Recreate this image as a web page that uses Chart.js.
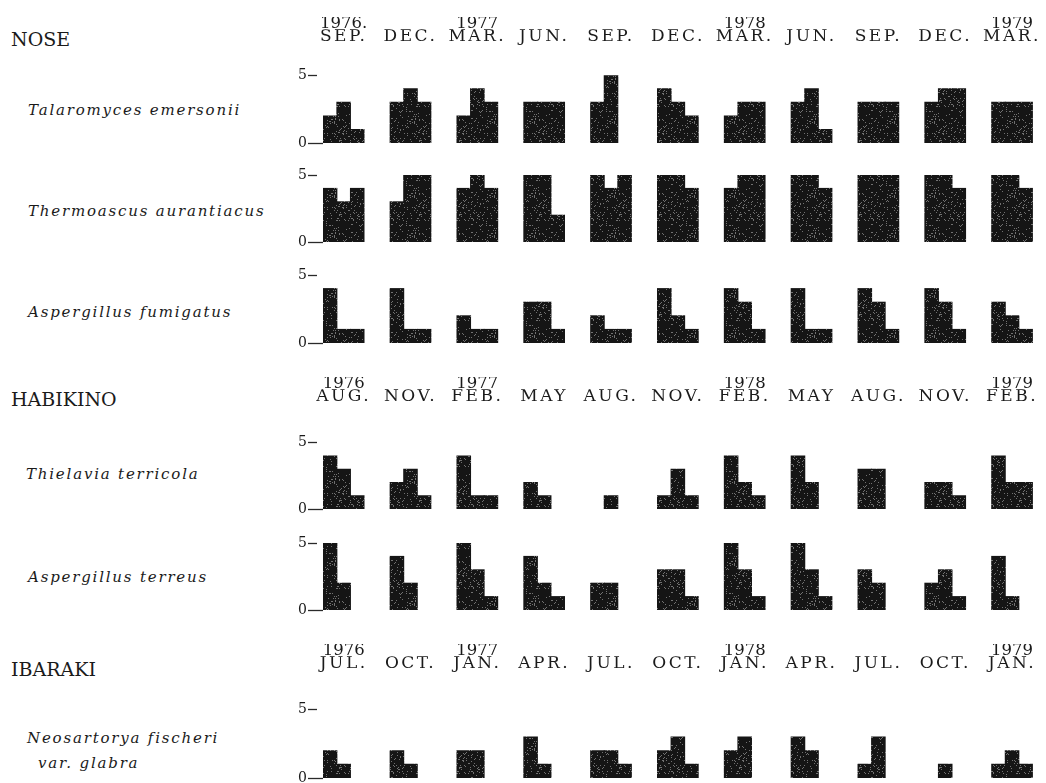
<!DOCTYPE html>
<html>
<head>
<meta charset="utf-8">
<script src="https://cdn.jsdelivr.net/npm/chart.js@4/dist/chart.umd.min.js"></script>
<style>
  html, body { margin: 0; padding: 0; background: #fff; }
  #figure { position: relative; width: 1046px; height: 783px; overflow: hidden;
            font-family: "DejaVu Serif", "Liberation Serif", serif; color: #1a1a1a; }
  #figure canvas { position: absolute; }
  .site { position: absolute; left: 11px; font-size: 19px; line-height: 20px; white-space: nowrap; }
  .species { position: absolute; left: 28px; font-style: italic; font-size: 15px; line-height: 18px;
             letter-spacing: 1.8px; white-space: nowrap; }
</style>
</head>
<body>
<div id="figure">
  <div class="site" style="top:29px">NOSE</div>
  <div class="species" style="top:101px">Talaromyces emersonii</div>
  <div class="species" style="top:202px">Thermoascus aurantiacus</div>
  <div class="species" style="top:303px">Aspergillus fumigatus</div>

  <div class="site" style="top:389px">HABIKINO</div>
  <div class="species" style="top:465px; left:26px">Thielavia terricola</div>
  <div class="species" style="top:568px">Aspergillus terreus</div>

  <div class="site" style="top:659px">IBARAKI</div>
  <div class="species" style="top:729px; left:27px">Neosartorya fischeri</div>
  <div class="species" style="top:754px; left:38px">var. <span>glabra</span></div>
</div>
<script>
// Sampling dates at each station (year shown only where it changes)
const NOSE_YEARS  = ['1976.', '', '1977', '', '', '', '1978', '', '', '', '1979'];
const NOSE_MONTHS = ['SEP.', 'DEC.', 'MAR.', 'JUN.', 'SEP.', 'DEC.', 'MAR.', 'JUN.', 'SEP.', 'DEC.', 'MAR.'];
const HABIKINO_YEARS  = ['1976', '', '1977', '', '', '', '1978', '', '', '', '1979'];
const HABIKINO_MONTHS = ['AUG.', 'NOV.', 'FEB.', 'MAY', 'AUG.', 'NOV.', 'FEB.', 'MAY', 'AUG.', 'NOV.', 'FEB.'];
const IBARAKI_YEARS  = ['1976', '', '1977', '', '', '', '1978', '', '', '', '1979'];
const IBARAKI_MONTHS = ['JUL.', 'OCT.', 'JAN.', 'APR.', 'JUL.', 'OCT.', 'JAN.', 'APR.', 'JUL.', 'OCT.', 'JAN.'];
const SCORE_TICKS = [0, 5];

// Three bars per sampling date, score 0-5
const TALAROMYCES_1 = [2, 3, 2, 3, 3, 4, 2, 3, 3, 3, 3];
const TALAROMYCES_2 = [3, 4, 4, 3, 5, 3, 3, 4, 3, 4, 3];
const TALAROMYCES_3 = [1, 3, 3, 3, 0, 2, 3, 1, 3, 4, 3];

const THERMOASCUS_1 = [4, 3, 4, 5, 5, 5, 4, 5, 5, 5, 5];
const THERMOASCUS_2 = [3, 5, 5, 5, 4, 5, 5, 5, 5, 5, 5];
const THERMOASCUS_3 = [4, 5, 4, 2, 5, 4, 5, 4, 5, 4, 4];

const FUMIGATUS_1 = [4, 4, 2, 3, 2, 4, 4, 4, 4, 4, 3];
const FUMIGATUS_2 = [1, 1, 1, 3, 1, 2, 3, 1, 3, 3, 2];
const FUMIGATUS_3 = [1, 1, 1, 1, 1, 1, 1, 1, 1, 1, 1];

const THIELAVIA_1 = [4, 2, 4, 2, 0, 1, 4, 4, 3, 2, 4];
const THIELAVIA_2 = [3, 3, 1, 1, 1, 3, 2, 2, 3, 2, 2];
const THIELAVIA_3 = [1, 1, 1, 0, 0, 1, 1, 0, 0, 1, 2];

const TERREUS_1 = [5, 4, 5, 4, 2, 3, 5, 5, 3, 2, 4];
const TERREUS_2 = [2, 2, 3, 2, 2, 3, 3, 3, 2, 3, 1];
const TERREUS_3 = [0, 0, 1, 1, 0, 1, 1, 1, 0, 1, 0];

const NEOSARTORYA_1 = [2, 2, 2, 3, 2, 2, 2, 3, 1, 0, 1];
const NEOSARTORYA_2 = [1, 1, 2, 1, 2, 3, 3, 2, 3, 1, 2];
const NEOSARTORYA_3 = [0, 0, 0, 0, 1, 1, 0, 0, 0, 0, 1];

// ---- layout ----
const CANVAS_LEFT = 283;
const CANVAS_WIDTH = 1046 - CANVAS_LEFT;
const AXIS_WIDTH = 40;
const PAD_RIGHT = 6;
const X_MIN = -0.309, X_MAX = 10.418;
const SERIF = '"DejaVu Serif", serif';
const MONTH_FONT = { family: SERIF, size: 17, lineHeight: 14.6 / 17 };
const MONTH_SPACING = '2.5px';
const YEAR_FONT = { family: SERIF, size: 16.5, lineHeight: 14 / 16.5 };
const YEAR_PAD = -1.8;
const INK = '#1a1a1a';

const rows = [
  { y5: 75,  y0: 143, series: [TALAROMYCES_1, TALAROMYCES_2, TALAROMYCES_3],
    header: { years: NOSE_YEARS, months: NOSE_MONTHS, monthPad: 31.4 } },
  { y5: 175, y0: 242, series: [THERMOASCUS_1, THERMOASCUS_2, THERMOASCUS_3] },
  { y5: 275, y0: 343, series: [FUMIGATUS_1, FUMIGATUS_2, FUMIGATUS_3] },
  { y5: 443, y0: 509, series: [THIELAVIA_1, THIELAVIA_2, THIELAVIA_3],
    header: { years: HABIKINO_YEARS, months: HABIKINO_MONTHS, monthPad: 38.9 } },
  { y5: 543, y0: 610, series: [TERREUS_1, TERREUS_2, TERREUS_3] },
  { y5: 710, y0: 778, series: [NEOSARTORYA_1, NEOSARTORYA_2, NEOSARTORYA_3],
    header: { years: IBARAKI_YEARS, months: IBARAKI_MONTHS, monthPad: 38.9 } }
];

const figure = document.getElementById('figure');
const dateIndex = NOSE_MONTHS.map((_, i) => i);

// Fixed speckle texture for the bar fill (half-tone look)
function speckleFill() {
  const size = 40;
  const tile = document.createElement('canvas');
  tile.width = tile.height = size;
  const g = tile.getContext('2d');
  g.fillStyle = '#151515';
  g.fillRect(0, 0, size, size);
  g.fillStyle = 'rgba(190,190,190,0.55)';
  for (let y = 0; y < size; y++) {
    for (let x = 0; x < size; x++) {
      let h = Math.imul(x, 374761393) + Math.imul(y, 668265263);
      h = Math.imul(h ^ (h >>> 13), 1274126177);
      h ^= h >>> 16;
      if ((h & 255) < 22) g.fillRect(x, y, 1, 1);
    }
  }
  return g.createPattern(tile, 'repeat');
}
const BAR_FILL = speckleFill();

// Month names are set with wider letter spacing than the years above them
const spacedMonths = {
  id: 'spacedMonths',
  afterLayout(chart) {
    const scale = chart.scales.x;
    if (!scale || scale.$spaced) return;
    const drawLabels = scale.drawLabels;
    scale.drawLabels = function (area) {
      const ctx = this.ctx;
      ctx.save();
      ctx.letterSpacing = MONTH_SPACING;
      drawLabels.call(this, area);
      ctx.restore();
    };
    scale.$spaced = true;
  }
};

// Top axis carrying either the month line or the year line of the date header
function dateAxis(header, kind) {
  const show = !!header;
  const isMonth = kind === 'month';
  const font = isMonth ? MONTH_FONT : YEAR_FONT;
  const pad = show ? (isMonth ? header.monthPad : YEAR_PAD) : 0;
  return {
    type: 'linear',
    position: 'top',
    weight: isMonth ? 0 : 1,
    offset: false,
    min: X_MIN,
    max: X_MAX,
    display: show,
    afterBuildTicks: axis => { axis.ticks = dateIndex.map(v => ({ value: v })); },
    afterFit: axis => {
      axis.paddingLeft = 0;
      axis.paddingRight = 0;
      if (show) axis.height = font.size * font.lineHeight + pad;
    },
    grid: { display: false, drawTicks: false },
    border: { display: false },
    ticks: {
      autoSkip: false,
      maxRotation: 0,
      padding: pad,
      color: INK,
      font: font,
      callback: v => show ? (isMonth ? header.months[v] : header.years[v]) : ''
    }
  };
}

function buildConfig(row, padTop, padBottom) {
  const header = row.header;
  return {
    type: 'bar',
    data: {
      labels: dateIndex,
      datasets: row.series.map(values => ({
        data: values,
        xAxisID: 'x',
        yAxisID: 'y',
        backgroundColor: BAR_FILL,
        borderWidth: 0,
        inflateAmount: ctx => (ctx.raw ? 0.5 : 0)
      }))
    },
    plugins: [spacedMonths],
    options: {
      responsive: false,
      maintainAspectRatio: false,
      animation: false,
      events: [],
      layout: { padding: { top: padTop, bottom: padBottom, left: 0, right: PAD_RIGHT } },
      barPercentage: 1.0,
      categoryPercentage: 0.609,
      plugins: { legend: { display: false }, tooltip: { enabled: false } },
      scales: {
        x: dateAxis(header, 'month'),
        xYear: dateAxis(header, 'year'),
        y: {
          min: 0,
          max: 5,
          afterBuildTicks: axis => { axis.ticks = SCORE_TICKS.map(v => ({ value: v })); },
          afterFit: axis => { axis.width = AXIS_WIDTH; },
          border: { display: false },
          grid: {
            drawOnChartArea: false,
            drawTicks: true,
            tickLength: 15,
            tickWidth: 1.3,
            tickColor: '#2a2a2a',
            tickBorderDash: ctx => (ctx.tick && ctx.tick.value === 5 ? [9, 40] : [])
          },
          ticks: {
            padding: 1,
            color: INK,
            font: { family: SERIF, size: 14 },
            callback: v => String(v)
          }
        }
      }
    }
  };
}

function placeChart(row, height, padTop, padBottom) {
  const canvas = document.createElement('canvas');
  canvas.width = CANVAS_WIDTH;
  canvas.height = height;
  canvas.style.left = CANVAS_LEFT + 'px';
  canvas.style.top = '0px';
  figure.appendChild(canvas);
  const chart = new Chart(canvas, buildConfig(row, padTop, padBottom));
  return { canvas, chart };
}

function makeRow(row) {
  const padTop = row.header ? 8 : 12;
  const padBottom = 12;
  const plotH = row.y0 - row.y5;
  let height = Math.round(padTop + plotH + padBottom + (row.header ? 70 : 0));
  let placed = placeChart(row, height, padTop, padBottom);
  // resize until the 0-5 band spans the wanted height
  for (let pass = 0; pass < 4; pass++) {
    const area = placed.chart.chartArea;
    const diff = plotH - (area.bottom - area.top);
    if (Math.abs(diff) < 0.5) break;
    placed.chart.destroy();
    placed.canvas.remove();
    height = Math.round(height + diff);
    placed = placeChart(row, height, padTop, padBottom);
  }
  placed.canvas.style.top = (row.y5 - placed.chart.chartArea.top) + 'px';
}

rows.forEach(makeRow);
</script>
</body>
</html>
